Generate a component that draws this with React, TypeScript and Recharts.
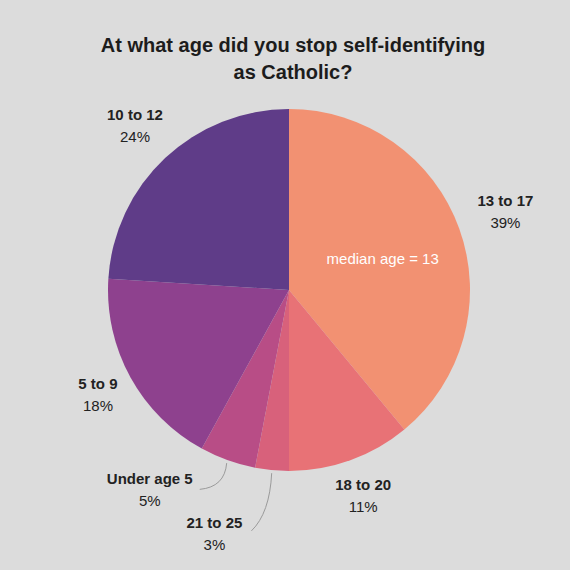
import React from "react";
import { PieChart, Pie, Cell } from "recharts";

const categories = ["13 to 17", "18 to 20", "21 to 25", "Under age 5", "5 to 9", "10 to 12"];
const shares = [39, 11, 3, 5, 18, 24];
const colors = ["#F29172", "#E87276", "#D8617B", "#B84D86", "#8E418E", "#5F3C88"];

const data = categories.map((name, i) => ({ name, value: shares[i] }));

const RAD = Math.PI / 180;

// label placement: most sit on a ring, the two thin slices get a leader line
function renderLabel(props: any) {
  const { cx, cy, midAngle, outerRadius, index, name, value } = props;
  const at = (r: number, a: number) => ({ x: cx + r * Math.cos(-a * RAD), y: cy + r * Math.sin(-a * RAD) });
  const gap: Record<string, number> = { "13 to 17": 49, "18 to 20": 38, "5 to 9": 37, "10 to 12": 44 };
  let pos = at(outerRadius + (gap[name] ?? 44), midAngle);
  let line: React.ReactNode = null;
  if (name === "21 to 25" || name === "Under age 5") {
    const small = name === "21 to 25";
    pos = small ? at(outerRadius + 74, midAngle - 11.6) : at(outerRadius + 63, midAngle - 15);
    const s = at(outerRadius + 3, midAngle);
    const e = small ? { x: pos.x + 37, y: pos.y - 3 } : { x: pos.x + 50, y: pos.y - 1 };
    const c = small ? { x: s.x - 2, y: s.y + 40 } : { x: s.x - 2, y: s.y + 24 };
    line = <path d={`M${s.x},${s.y} Q${c.x},${c.y} ${e.x},${e.y}`} stroke="#9a9a9a" strokeWidth={1} fill="none" />;
  }
  const mid = at(outerRadius * 0.55, midAngle);
  return (
    <g key={`lbl-${index}`}>
      {line}
      <text x={pos.x} y={pos.y - 6} textAnchor="middle" fontSize={15} fontWeight="bold" fill="#222">
        {name}
      </text>
      <text x={pos.x} y={pos.y + 16} textAnchor="middle" fontSize={15} fill="#222">
        {value}%
      </text>
      {index === 0 && (
        <text x={mid.x} y={mid.y + 8} textAnchor="middle" fontSize={15} fill="#fff">
          median age = 13
        </text>
      )}
    </g>
  );
}

export default function App() {
  return (
    <div style={{ position: "absolute", left: 0, top: 0, width: 570, height: 570, background: "#DCDCDC", fontFamily: "'Liberation Sans', Arial, sans-serif" }}>
      <div style={{ position: "absolute", top: 32, left: 0, width: 586, textAlign: "center", fontSize: 20, fontWeight: "bold", color: "#1c1c1c", lineHeight: "27px" }}>
        At what age did you stop self-identifying
        <br />
        as Catholic?
      </div>
      <PieChart width={570} height={570} style={{ position: "absolute", left: 0, top: 0 }}>
        <Pie
          data={data}
          dataKey="value"
          nameKey="name"
          cx={284}
          cy={285}
          outerRadius={181}
          startAngle={90}
          endAngle={-270}
          stroke="none"
          label={renderLabel}
          labelLine={false}
          isAnimationActive={false}
        >
          {data.map((d, i) => (
            <Cell key={d.name} fill={colors[i]} />
          ))}
        </Pie>
      </PieChart>
    </div>
  );
}
